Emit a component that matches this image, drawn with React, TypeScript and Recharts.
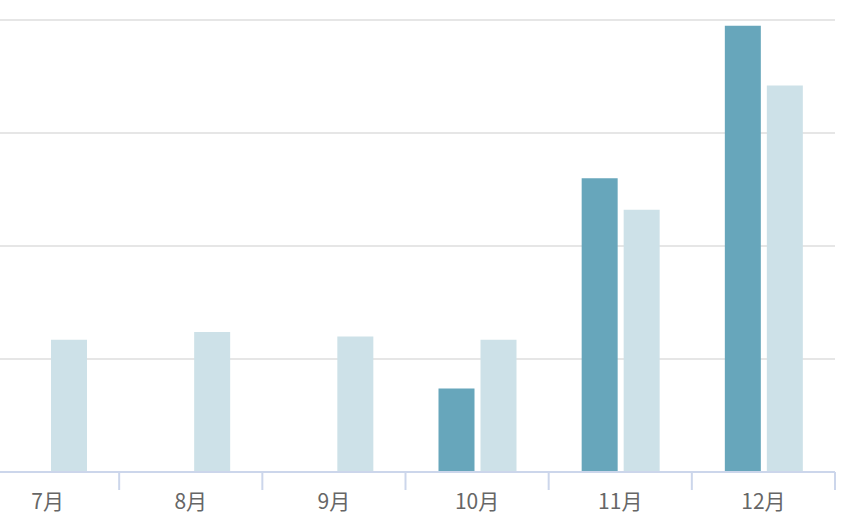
import React from 'react';
import { BarChart, Bar, XAxis, YAxis, CartesianGrid } from 'recharts';

const categories = ['7月', '8月', '9月', '10月', '11月', '12月'];
const seriesA = [0, 0, 0, 74, 260, 395];
const seriesB = [117, 124, 120, 117, 232, 342];
const yTicks = [0, 100, 200, 300, 400];

const data = categories.map((c, i) => ({ name: c, a: seriesA[i], b: seriesB[i] }));

const CHART_W = 884;
const CHART_H = 525;
const MARGIN = { top: 20, right: 25, left: 0, bottom: 0 };
const BAND = (CHART_W - MARGIN.left - MARGIN.right) / categories.length;

const Tick = (props: any) => {
  const { x, y, payload } = props;
  return (
    <g>
      <line x1={x + BAND / 2} x2={x + BAND / 2} y1={y} y2={y + 18} stroke="#ccd6eb" strokeWidth={2} />
      <text x={x} y={y + 37} textAnchor="middle" fill="#666666" fontSize={21} fontFamily="'Noto Sans CJK SC', 'Noto Sans', sans-serif">
        {payload.value}
      </text>
    </g>
  );
};

export default function App() {
  return (
    <div style={{ position: 'absolute', left: -24, top: 0 }}>
      <BarChart width={CHART_W} height={CHART_H} data={data} margin={MARGIN} barSize={36} barGap={6}>
        <CartesianGrid vertical={false} stroke="#e6e6e6" strokeWidth={2} />
        <YAxis hide domain={[0, 400]} ticks={yTicks} />
        <XAxis
          dataKey="name"
          height={53}
          tickLine={false}
          tickSize={0}
          tickMargin={0}
          axisLine={{ stroke: '#ccd6eb', strokeWidth: 2 }}
          tick={<Tick />}
          interval={0}
        />
        <Bar dataKey="a" fill="#67a6bb" isAnimationActive={false} />
        <Bar dataKey="b" fill="#cde1e8" isAnimationActive={false} />
      </BarChart>
    </div>
  );
}
